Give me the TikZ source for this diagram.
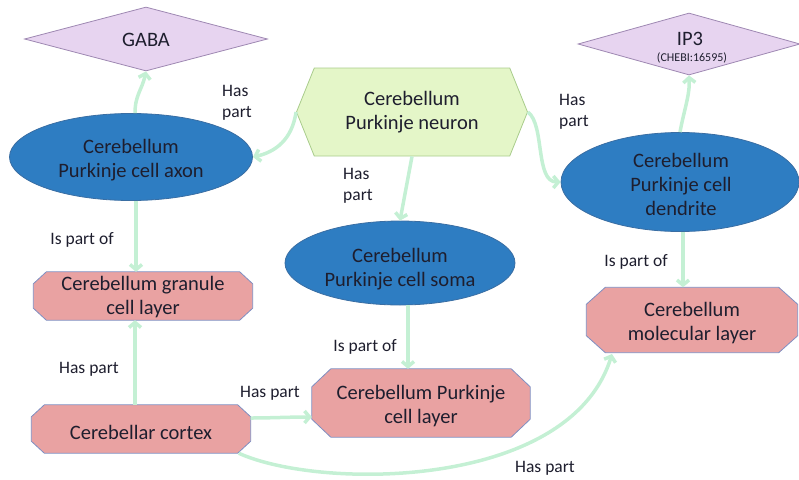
\documentclass[tikz,border=0pt]{standalone}
\usepackage{fontspec}
\setmainfont{Carlito}
\usetikzlibrary{shapes.geometric,shapes.symbols,arrows.meta}
\definecolor{lav}{HTML}{E7D4F0}
\definecolor{lavb}{HTML}{9E88B2}
\definecolor{lgreen}{HTML}{E4F6C8}
\definecolor{lgreenb}{HTML}{A9CC8C}
\definecolor{blob}{HTML}{2E7DC2}
\definecolor{blobb}{HTML}{3A6EA3}
\definecolor{pinkf}{HTML}{E9A2A2}
\definecolor{pinkb}{HTML}{7F8FC2}
\definecolor{mint}{HTML}{C4F0D4}
\definecolor{txt}{HTML}{1E1E2E}
\newcommand\octshape[3]{%
  \filldraw[draw=pinkb,fill=pinkf,line width=0.8pt]
    ([xshift=#2pt]#1.north west) -- ([xshift=-#2pt]#1.north east)
    -- ([yshift=-#3pt]#1.north east) -- ([yshift=#3pt]#1.south east)
    -- ([xshift=-#2pt]#1.south east) -- ([xshift=#2pt]#1.south west)
    -- ([yshift=#3pt]#1.south west) -- ([yshift=-#3pt]#1.north west) -- cycle;}
\begin{document}
\begin{tikzpicture}[x=1pt,y=-1pt,
  every node/.style={text=txt},
  bigfont/.style={font=\fontsize{20.5}{24}\selectfont},
  lblfont/.style={font=\fontsize{17.5}{21}\selectfont, align=left, inner sep=0pt},
  chem/.style={diamond, draw=lavb, fill=lav, line width=0.8pt, inner sep=0pt},
  blobnode/.style={ellipse, draw=blobb, fill=blob, line width=0.8pt, bigfont, align=center, inner sep=0pt},
  layerbox/.style={rectangle, draw=none, inner sep=0pt},
  rel/.style={draw=mint, line width=3.5pt, -{Straight Barb[length=5pt,width=12pt]}}
]
\useasboundingbox (0,0) rectangle (799,479);

% chemicals
\node[chem, minimum width=243pt, minimum height=64pt] (gaba) at (146,39) {};
\node[bigfont] (gabat) at (146,40) {GABA};
\node[chem, minimum width=222pt, minimum height=62pt] (ip3) at (689,44) {};
\node[bigfont] (ip3t) at (690,39) {IP3};
\node[font=\fontsize{12}{14}\selectfont] (chebi) at (692,58) {(CHEBI:16595)};

% neuron
\node[signal, signal to=west and east, signal pointer angle=136, draw=lgreenb, fill=lgreen, line width=0.8pt,
      minimum width=231pt, minimum height=88pt, inner sep=0pt, bigfont, align=center] (neuron) at (412,112)
      {Cerebellum\\Purkinje neuron};

% ellipses
\node[blobnode, minimum width=243pt, minimum height=87pt] (axon) at (131,157) {};
\node[bigfont, align=center] (axont) at (131,160) {Cerebellum\\Purkinje cell axon};
\node[blobnode, minimum width=238pt, minimum height=99pt] (dend) at (680,182) {};
\node[bigfont, align=center] (dendt) at (681,184) {Cerebellum\\Purkinje cell\\dendrite};
\node[blobnode, minimum width=230pt, minimum height=84pt] (soma) at (400,263) {};
\node[bigfont, align=center] (somat) at (400,269) {Cerebellum\\Purkinje cell soma};

% layers
\node[layerbox, minimum width=219pt, minimum height=48pt] (gran) at (143,296) {};
\octshape{gran}{13}{12}
\node[bigfont, align=center] (grant) at (143,297) {Cerebellum granule\\cell layer};
\node[layerbox, minimum width=219pt, minimum height=48pt] (cortex) at (141,429) {};
\octshape{cortex}{13}{12}
\node[bigfont] (cortext) at (141,432) {Cerebellar cortex};
\node[layerbox, minimum width=218pt, minimum height=68pt] (pcl) at (421,403) {};
\octshape{pcl}{19}{18}
\node[bigfont, align=center] (pclt) at (421,406) {Cerebellum Purkinje\\cell layer};
\node[layerbox, minimum width=211pt, minimum height=65pt] (mol) at (692,320) {};
\octshape{mol}{19}{17}
\node[bigfont, align=center] (molt) at (692,323) {Cerebellum\\molecular layer};

% connectors
\draw[rel] (axon.north) ++(4,0) coordinate (a1) .. controls (135,95) and (142,90) .. (gaba.south);
\draw[rel] (neuron.west) .. controls (292,140) and (275,152) .. (axon.east);
\draw[rel] (neuron.south) -- (soma.north);
\draw[rel] (neuron.east) .. controls (545,125) and (535,182) .. (dend.west);
\draw[rel] (dend.north) .. controls (684,110) and (690,95) .. (ip3.south);
\draw[rel] (axon.south) ++(5,0) coordinate (a2) -- (a2 |- gran.north);
\draw[rel] (dend.south) ++(3,0) coordinate (d2) -- (d2 |- mol.north);
\draw[rel] (soma.south) ++(8,0) coordinate (s2) -- (s2 |- pcl.north);
\draw[rel] (cortex.north) ++(-6,0) coordinate (c1) -- (c1 |- gran.south);
\draw[rel] (cortex.east) ++(0,-11) coordinate (c2) .. controls (270,418) and (290,417) .. ([yshift=-14pt]pcl.west);
\draw[rel] (cortex.south east) ++(-12,0) coordinate (c3) .. controls (320,490) and (570,490) .. (612,354);

% labels
\node[lblfont] (l1) at (237,103) {Has\\part};
\node[lblfont] (l2) at (358,186) {Has\\part};
\node[lblfont] (l3) at (574,112) {Has\\part};
\node[lblfont] (l4) at (82,240) {Is part of};
\node[lblfont] (l5) at (636,262) {Is part of};
\node[lblfont] (l6) at (365,347) {Is part of};
\node[lblfont] (l7) at (89,369) {Has part};
\node[lblfont] (l8) at (270,393) {Has part};
\node[lblfont] (l9) at (545,468) {Has part};
\end{tikzpicture}
\end{document}
